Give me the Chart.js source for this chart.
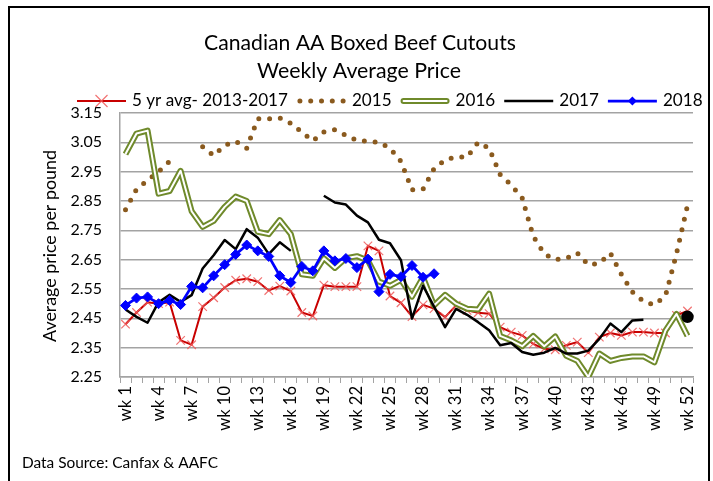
<!DOCTYPE html>
<html>
<head>
<meta charset="utf-8">
<script src="https://cdn.jsdelivr.net/npm/chart.js@4.4.1/dist/chart.umd.min.js"></script>
<style>
html,body{margin:0;padding:0;background:#fff;}
#wrap{position:relative;width:713px;height:481px;overflow:hidden;background:#fff;}
#frame{position:absolute;left:8px;top:6px;width:702px;height:490px;border:2px solid #000;box-sizing:border-box;pointer-events:none;}
#c{position:absolute;left:0;top:0;}
</style>
</head>
<body>
<div id="wrap">
<canvas id="c" width="713" height="481"></canvas>
<div id="frame"></div>
</div>
<script>
// ---------- DATA ----------
const weeks = ['wk 1','wk 2','wk 3','wk 4','wk 5','wk 6','wk 7','wk 8','wk 9','wk 10',
  'wk 11','wk 12','wk 13','wk 14','wk 15','wk 16','wk 17','wk 18','wk 19','wk 20',
  'wk 21','wk 22','wk 23','wk 24','wk 25','wk 26','wk 27','wk 28','wk 29','wk 30',
  'wk 31','wk 32','wk 33','wk 34','wk 35','wk 36','wk 37','wk 38','wk 39','wk 40',
  'wk 41','wk 42','wk 43','wk 44','wk 45','wk 46','wk 47','wk 48','wk 49','wk 50',
  'wk 51','wk 52'];

const avg5yr = [2.43,2.47,2.505,2.50,2.505,2.375,2.36,2.49,2.52,2.555,
  2.58,2.585,2.575,2.545,2.56,2.543,2.47,2.458,2.563,2.558,
  2.558,2.558,2.697,2.68,2.526,2.503,2.456,2.496,2.483,2.454,
  2.494,2.477,2.469,2.466,2.42,2.403,2.392,2.363,2.346,2.343,
  2.358,2.369,2.333,2.386,2.40,2.392,2.403,2.403,2.40,2.40,
  2.46,2.475];

const y2015 = [2.82,2.89,2.92,2.95,2.985,null,null,3.035,3.005,3.04,
  3.054,3.03,3.13,3.13,3.133,3.115,3.085,3.055,3.085,3.093,
  3.074,3.056,3.054,3.05,3.03,2.985,2.888,2.89,2.96,2.99,
  3.0,3.0,3.05,3.03,2.94,2.905,2.86,2.73,2.67,2.65,
  2.654,2.673,2.632,2.638,2.672,2.60,2.54,2.508,2.496,2.526,
  2.67,2.835];

const y2016 = [3.01,3.08,3.09,2.875,2.884,2.953,2.815,2.762,2.782,2.83,
  2.865,2.85,2.745,2.737,2.785,2.737,2.60,2.595,2.655,2.622,
  2.655,2.662,2.647,2.575,2.561,2.581,2.524,2.59,2.494,2.53,
  2.50,2.483,2.48,2.534,2.39,2.375,2.355,2.39,2.355,2.388,
  2.322,2.305,2.25,2.33,2.305,2.315,2.32,2.32,2.30,2.408,
  2.465,2.39];

const y2017 = [2.48,2.455,2.435,2.505,2.53,2.506,2.529,2.62,2.665,2.717,
  2.686,2.754,2.725,2.669,2.709,2.68,null,null,2.868,2.845,
  2.838,2.80,2.777,2.718,2.706,2.648,2.449,2.561,2.49,2.42,
  2.482,2.462,2.437,2.409,2.358,2.366,2.335,2.326,2.333,2.349,
  2.33,2.33,2.34,2.38,2.432,2.403,2.443,2.445,null,null,
  null,2.455];

const y2018 = [2.494,2.519,2.523,2.50,2.511,2.497,2.559,2.554,2.595,2.633,
  2.668,2.70,2.68,2.661,2.595,2.572,2.627,2.612,2.68,2.646,
  2.654,2.623,2.652,2.541,2.60,2.592,2.63,2.59,2.602];

const yTicks = [2.25,2.35,2.45,2.55,2.65,2.75,2.85,2.95,3.05,3.15];
const yTickLabels = ['2.25','2.35','2.45','2.55','2.65','2.75','2.85','2.95','3.05','3.15'];
const seriesNames = ['5 yr avg- 2013-2017','2015','2016','2017','2018'];
const titleLines = ['Canadian AA Boxed Beef Cutouts','Weekly Average Price'];
const yTitle = 'Average price per pound';
const sourceNote = 'Data Source: Canfax & AAFC';

// ---------- STYLE ----------
const FONT = 'Lato';
const C_RED = '#c80000', C_REDMK = 'rgba(238,90,90,0.85)';
const C_BROWN = '#8a5a1e', C_OLIVE = '#6f8a2b', C_BLACK = '#000000', C_BLUE = '#0000ff';
const GRID = '#a3a3a3';

function fitPx(text, target){
  const m = document.createElement('canvas').getContext('2d');
  m.font = '100px ' + FONT;
  return 100 * target / m.measureText(text).width;
}
const fsTitle1 = fitPx(titleLines[0], 312);
const fsTitle2 = fitPx(titleLines[1], 204);
const fsLegend = fitPx(seriesNames[0], 156);
const fsYTitle = fitPx(yTitle, 192);
const fsSource = fitPx(sourceNote, 196);

const deco = {
  id: 'deco',
  afterDraw(chart){
    const c = chart.ctx;
    c.save();
    c.fillStyle = '#000';
    c.textBaseline = 'middle';
    c.textAlign = 'center';
    c.font = fsTitle1.toFixed(2) + 'px ' + FONT;
    c.fillText(titleLines[0], 360, 43);
    c.font = fsTitle2.toFixed(2) + 'px ' + FONT;
    c.fillText(titleLines[1], 359, 71);

    // y axis title
    c.save();
    c.translate(50, 246);
    c.rotate(-Math.PI/2);
    c.font = fsYTitle.toFixed(2) + 'px ' + FONT;
    c.fillText(yTitle, 0, 0);
    c.restore();

    // source note
    c.textAlign = 'left';
    c.font = fsSource.toFixed(2) + 'px ' + FONT;
    c.fillText(sourceNote, 22, 463);

    // legend
    c.font = fsLegend.toFixed(2) + 'px ' + FONT;
    const ly = 101;
    const sw = 49;
    let x = 77;
    const drawers = [
      (x0) => { // red line + x marker
        c.strokeStyle = C_RED; c.lineWidth = 2; c.lineCap = 'butt';
        c.beginPath(); c.moveTo(x0, ly); c.lineTo(x0+sw, ly); c.stroke();
        const cx = x0 + sw/2, r = 6;
        c.strokeStyle = C_REDMK; c.lineWidth = 1.2;
        c.beginPath(); c.moveTo(cx-r, ly-r); c.lineTo(cx+r, ly+r); c.moveTo(cx-r, ly+r); c.lineTo(cx+r, ly-r); c.stroke();
      },
      (x0) => { // dots
        c.fillStyle = C_BROWN;
        for (let i = 0; i < 5; i++){ c.beginPath(); c.arc(x0+3+i*10.8, ly, 2.5, 0, Math.PI*2); c.fill(); }
        c.fillStyle = '#000';
      },
      (x0) => { // double olive
        c.lineCap = 'round';
        c.strokeStyle = C_OLIVE; c.lineWidth = 6;
        c.beginPath(); c.moveTo(x0+3, ly); c.lineTo(x0+sw-3, ly); c.stroke();
        c.strokeStyle = '#fff'; c.lineWidth = 2;
        c.beginPath(); c.moveTo(x0+3, ly); c.lineTo(x0+sw-3, ly); c.stroke();
        c.lineCap = 'butt';
      },
      (x0) => { // black
        c.strokeStyle = C_BLACK; c.lineWidth = 2.5;
        c.beginPath(); c.moveTo(x0, ly); c.lineTo(x0+sw, ly); c.stroke();
      },
      (x0) => { // blue + diamond
        c.strokeStyle = C_BLUE; c.lineWidth = 2.75;
        c.beginPath(); c.moveTo(x0, ly); c.lineTo(x0+sw, ly); c.stroke();
        const cx = x0 + sw/2, r = 4.5;
        c.fillStyle = C_BLUE;
        c.beginPath(); c.moveTo(cx, ly-r); c.lineTo(cx+r, ly); c.lineTo(cx, ly+r); c.lineTo(cx-r, ly); c.closePath(); c.fill();
        c.fillStyle = '#000';
      }
    ];
    for (let i = 0; i < seriesNames.length; i++){
      drawers[i](x);
      x += sw + 6;
      c.fillStyle = '#000';
      c.fillText(seriesNames[i], x, ly - 1);
      x += c.measureText(seriesNames[i]).width + 9;
    }
    c.restore();
  }
};

const ctx = document.getElementById('c').getContext('2d');
new Chart(ctx, {
  type: 'line',
  data: {
    labels: weeks,
    datasets: [
      { label: seriesNames[0], data: avg5yr, borderColor: C_RED, borderWidth: 2, order: 10,
        pointStyle: 'crossRot', pointRadius: 6, pointBorderColor: C_REDMK, pointBorderWidth: 1.2,
        pointBackgroundColor: C_REDMK, tension: 0 },
      { label: seriesNames[1], data: y2015, borderColor: C_BROWN, borderWidth: 5, order: 9,
        borderDash: [0, 10.8], borderCapStyle: 'round', pointRadius: 0, spanGaps: false },
      { label: seriesNames[2], data: y2016, borderColor: C_OLIVE, borderWidth: 6, order: 8,
        pointRadius: 0, borderJoinStyle: 'round' },
      { label: seriesNames[2] + ' inner', data: y2016, borderColor: '#ffffff', borderWidth: 2, order: 7,
        pointRadius: 0, borderJoinStyle: 'round' },
      { label: seriesNames[3], data: y2017, borderColor: C_BLACK, borderWidth: 2.5, order: 6,
        borderJoinStyle: 'round', spanGaps: false,
        pointRadius: (p) => (p.dataIndex === 51 ? 5 : 0),
        pointBackgroundColor: C_BLACK, pointBorderColor: C_BLACK },
      { label: seriesNames[4], data: y2018, borderColor: C_BLUE, borderWidth: 2.75, order: 5,
        borderJoinStyle: 'round', pointStyle: 'rectRot', pointRadius: 5,
        pointBackgroundColor: C_BLUE, pointBorderColor: C_BLUE, pointBorderWidth: 1 }
    ]
  },
  options: {
    responsive: false,
    animation: false,
    devicePixelRatio: 1,
    layout: { padding: { left: 0, right: 20, top: 113, bottom: 0 } },
    plugins: { legend: { display: false }, title: { display: false }, tooltip: { enabled: false } },
    scales: {
      x: {
        offset: true,
        grid: { offset: true, drawOnChartArea: false, drawTicks: true, tickLength: 6, color: GRID, lineWidth: 1 },
        border: { display: true, color: GRID, width: 1.5 },
        ticks: {
          autoSkip: false, maxRotation: 90, minRotation: 90, padding: 3,
          color: '#000', font: { family: FONT, size: 16.5 },
          callback: (v, i) => (i % 3 === 0 ? weeks[i] : '')
        },
        afterFit: (s) => { s.height = 104; }
      },
      y: {
        min: 2.25, max: 3.15,
        afterBuildTicks: (s) => { s.ticks = yTicks.map(v => ({ value: v })); },
        ticks: {
          padding: 18, color: '#000', font: { family: FONT, size: 16 },
          callback: (v, i) => yTickLabels[i]
        },
        grid: { color: GRID, lineWidth: 1.5, drawTicks: false },
        border: { display: true, color: GRID, width: 1.5 },
        afterFit: (s) => { s.width = 120; }
      }
    }
  },
  plugins: [deco]
});
</script>
</body>
</html>
